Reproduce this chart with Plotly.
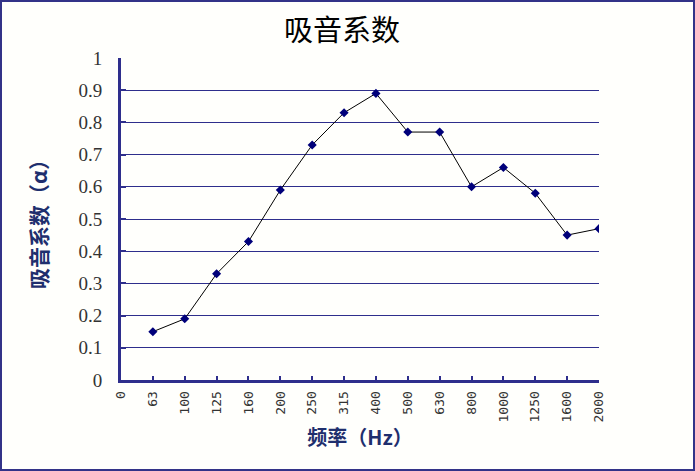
import plotly.graph_objects as go

freq_labels = ["0", "63", "100", "125", "160", "200", "250", "315", "400", "500",
               "630", "800", "1000", "1250", "1600", "2000"]
freq_points = ["63", "100", "125", "160", "200", "250", "315", "400", "500",
               "630", "800", "1000", "1250", "1600", "2000"]
alpha = [0.15, 0.19, 0.33, 0.43, 0.59, 0.73, 0.83, 0.89, 0.77, 0.77, 0.60, 0.66, 0.58, 0.45, 0.47]
y_ticks = [0, 0.1, 0.2, 0.3, 0.4, 0.5, 0.6, 0.7, 0.8, 0.9, 1]
y_ticktext = ["0", "0.1", "0.2", "0.3", "0.4", "0.5", "0.6", "0.7", "0.8", "0.9", "1"]

x_idx = [freq_labels.index(f) for f in freq_points]

W, H = 695, 471
L, R, T, B = 121, 96, 58, 91
pw, ph = W - L - R, H - T - B

navy = "#2e2e8c"

fig = go.Figure()
fig.add_trace(go.Scatter(
    x=x_idx, y=alpha, mode="lines+markers",
    line=dict(color="black", width=1),
    marker=dict(symbol="diamond", size=7, color="#00007a"),
    hoverinfo="skip", showlegend=False,
))

fig.update_layout(
    width=W, height=H,
    margin=dict(l=L, r=R, t=T, b=B, autoexpand=False),
    paper_bgcolor="#fffffc", plot_bgcolor="#fffffc",
    title=dict(text="吸音系数", x=342 / W, xanchor="center", y=1 - 31 / H, yanchor="middle",
               font=dict(family="Noto Sans CJK SC", size=29, color="black")),
    xaxis=dict(
        range=[0, 15], tickmode="array", tickvals=list(range(16)), ticktext=freq_labels,
        tickangle=-90, ticks="inside", ticklen=4, tickwidth=2, tickcolor=navy,
        showline=True, linecolor=navy, linewidth=3, showgrid=False, zeroline=False,
        ticklabelstandoff=3,
        tickfont=dict(family="DejaVu Sans Mono", size=13, color="#333"),
        title=dict(text="<b>频率（Hz）</b>", font=dict(family="Noto Sans CJK SC", size=20, color="#1f2f6e"),
                   standoff=10),
    ),
    yaxis=dict(
        range=[0, 1], tickmode="array", tickvals=y_ticks, ticktext=y_ticktext,
        ticks="inside", ticklen=5, tickwidth=2, tickcolor=navy,
        showline=True, linecolor=navy, linewidth=3,
        showgrid=True, gridcolor=navy, gridwidth=1, zeroline=False,
        ticklabelstandoff=12,
        tickfont=dict(family="Liberation Serif", size=19, color="#333"),
        title=dict(text="<b>吸音系数（α）</b>", font=dict(family="Noto Sans CJK SC", size=21, color="#1f2f6e"),
                   standoff=26),
    ),
)

fig.add_shape(type="rect", xref="paper", yref="paper",
              x0=(1 - L) / pw, x1=(W - 1 - L) / pw,
              y0=-(B - 1) / ph, y1=(ph + T - 1) / ph,
              line=dict(color="#333388", width=2), layer="below")

fig.write_html("out.html", config={"displayModeBar": False},
               post_script="document.body.style.margin='0';")
